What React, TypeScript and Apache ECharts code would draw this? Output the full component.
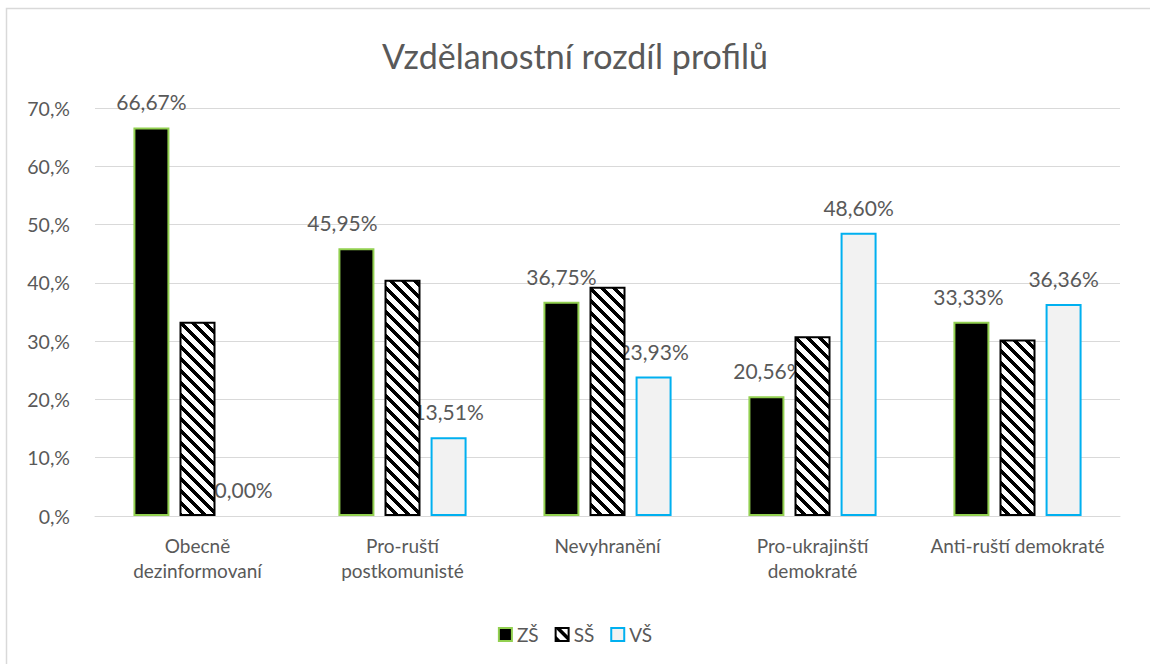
import React, { useEffect, useRef } from "react";
import * as echarts from "echarts";

const TITLE = "Vzdělanostní rozdíl profilů";
const CATEGORIES = [
  "Obecně\ndezinformovaní",
  "Pro-ruští\npostkomunisté",
  "Nevyhranění",
  "Pro-ukrajinští\ndemokraté",
  "Anti-ruští demokraté",
];
const SERIES_NAMES = ["ZŠ", "SŠ", "VŠ"];
const ZS = [66.67, 45.95, 36.75, 20.56, 33.33];
const SS = [33.33, 40.54, 39.32, 30.84, 30.3];
const VS = [0.0, 13.51, 23.93, 48.6, 36.36];
const Y_TICKS = [0, 10, 20, 30, 40, 50, 60, 70];

const ZS_LABEL_DX = [0, -14, 0, 2, -3];
const VS_LABEL_DX = [0, 0, 0, 0, 0];

const FONT = "Lato, 'Noto Sans', sans-serif";
const TEXT_COLOR = "#595959";

function makeHatch(): HTMLCanvasElement {
  const size = 12;
  const c = document.createElement("canvas");
  c.width = size;
  c.height = size;
  const ctx = c.getContext("2d")!;
  ctx.fillStyle = "#ffffff";
  ctx.fillRect(0, 0, size, size);
  ctx.fillStyle = "#000000";
  for (let y = 0; y < size; y++) {
    for (let x = 0; x < size; x++) {
      const d = (((x - y) % size) + size) % size;
      if (d < 5) ctx.fillRect(x, y, 1, 1);
    }
  }
  return c;
}

const fmt = (v: number) => v.toFixed(2).replace(".", ",") + "%";

export default function App() {
  const ref = useRef<HTMLDivElement>(null);
  useEffect(() => {
    document.body.style.margin = "0";
    const chart = echarts.init(ref.current!, undefined, { renderer: "svg" });
    const hatch = makeHatch();
    const labelBase = {
      show: true,
      position: "top" as const,
      distance: 15,
      fontSize: 21,
      fontFamily: FONT,
      color: TEXT_COLOR,
      formatter: (p: any) => fmt(p.value),
    };
    chart.setOption({
      animation: false,
      backgroundColor: "#ffffff",
      title: {
        text: TITLE,
        left: "center",
        top: 33,
        textStyle: {
          fontSize: 34,
          fontWeight: "normal",
          fontFamily: FONT,
          color: TEXT_COLOR,
        },
      },
      graphic: [
        {
          type: "rect",
          shape: { x: 6.5, y: 8.5, width: 1200, height: 700 },
          style: { fill: "none", stroke: "#D9D9D9", lineWidth: 1.5 },
          silent: true,
        },
      ],
      legend: {
        data: SERIES_NAMES,
        top: 620,
        left: "center",
        icon: "rect",
        itemWidth: 13,
        itemHeight: 13,
        itemGap: 16,
        itemStyle: { borderWidth: 2 },
        textStyle: { fontSize: 19, fontFamily: FONT, color: TEXT_COLOR },
      },
      grid: { left: 95, right: 30, top: 108, bottom: 148 },
      xAxis: {
        type: "category",
        data: CATEGORIES,
        axisLine: { lineStyle: { color: "#D9D9D9", width: 1 } },
        axisTick: { show: false },
        axisLabel: {
          fontSize: 19,
          fontFamily: FONT,
          color: TEXT_COLOR,
          lineHeight: 25,
          margin: 17,
          interval: 0,
        },
      },
      yAxis: {
        type: "value",
        min: Y_TICKS[0],
        max: Y_TICKS[Y_TICKS.length - 1],
        interval: Y_TICKS[1] - Y_TICKS[0],
        axisLine: { show: false },
        axisTick: { show: false },
        splitLine: { lineStyle: { color: "#D9D9D9", width: 1 } },
        axisLabel: {
          fontSize: 19.5,
          fontFamily: FONT,
          color: TEXT_COLOR,
          margin: 25,
          formatter: (v: number) => `${v},%`,
        },
      },
      series: [
        {
          name: SERIES_NAMES[0],
          type: "bar",
          barWidth: 36,
          barGap: "28%",
          itemStyle: { color: "#000000", borderColor: "#92D050", borderWidth: 2 },
          label: labelBase,
          data: ZS.map((v, i) => ({ value: v, label: { offset: [ZS_LABEL_DX[i], 0] } })),
          z: 2,
        },
        {
          name: SERIES_NAMES[1],
          type: "bar",
          barWidth: 36,
          barGap: "28%",
          itemStyle: {
            color: { image: hatch, repeat: "repeat", imageWidth: 12, imageHeight: 12 },
            borderColor: "#000000",
            borderWidth: 2,
          },
          data: SS,
          z: 3,
        },
        {
          name: SERIES_NAMES[2],
          type: "bar",
          barWidth: 36,
          barGap: "28%",
          itemStyle: { color: "#F2F2F2", borderColor: "#00B0F0", borderWidth: 2 },
          label: labelBase,
          data: VS.map((v, i) => ({
            value: v,
            label: { offset: [VS_LABEL_DX[i], 0] },
            itemStyle: v === 0 ? { borderColor: "transparent", color: "transparent" } : undefined,
          })),
          z: 2,
        },
      ],
    });
    return () => chart.dispose();
  }, []);
  return <div ref={ref} style={{ width: 1150, height: 664 }} />;
}
